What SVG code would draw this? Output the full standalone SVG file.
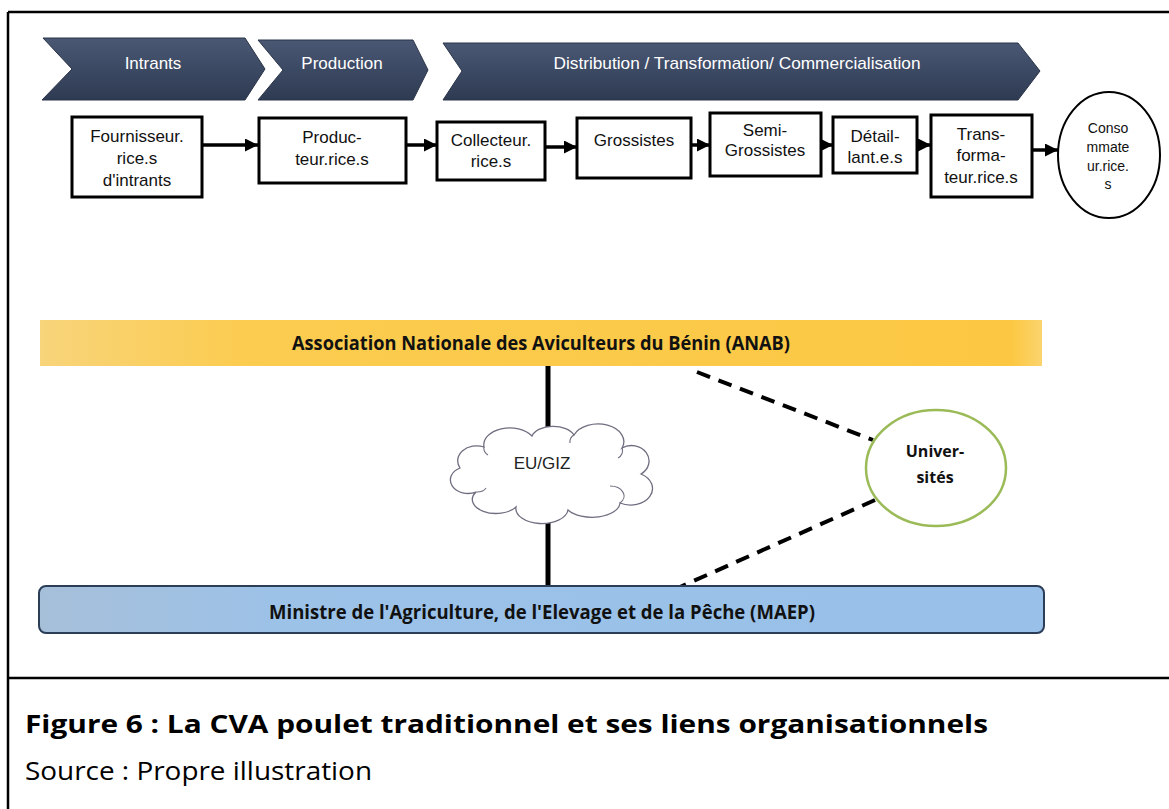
<svg xmlns="http://www.w3.org/2000/svg" width="1169" height="809" viewBox="0 0 1169 809">
<defs>
<style>
.frame{stroke:#000;stroke-width:2.5;fill:none}
.chev{fill:url(#chevGrad);stroke:#2a3448;stroke-width:1}
.chevtxt{font-family:"Liberation Sans",Arial,sans-serif;font-size:17px;fill:#fff;text-anchor:middle;dominant-baseline:central}
.box{fill:#fff;stroke:#000;stroke-width:3}
.btxt{font-family:"Liberation Sans",Arial,sans-serif;font-size:17px;fill:#111;text-anchor:middle;dominant-baseline:central}
.stxt{font-family:"Liberation Sans",Arial,sans-serif;font-size:14px;fill:#111;text-anchor:middle;dominant-baseline:central}
.flow{stroke:#000;stroke-width:3.5;fill:none;marker-end:url(#ah)}
.solid{stroke:#000;stroke-width:5;fill:none}
.dash{stroke:#000;stroke-width:4;fill:none;stroke-dasharray:14 9}
.btitle{font-family:"Open Sans","Noto Sans",sans-serif;font-weight:bold;font-size:19px;fill:#111;text-anchor:middle;dominant-baseline:central}
.utxt{font-family:"Open Sans","Noto Sans",sans-serif;font-weight:bold;font-size:16px;fill:#111;text-anchor:middle;dominant-baseline:central}
.cap{font-family:"Open Sans","Noto Sans",sans-serif;font-size:25px;fill:#000}
</style>
<linearGradient id="chevGrad" x1="0" y1="0" x2="0" y2="1">
<stop offset="0" stop-color="#4a5874"/>
<stop offset="0.5" stop-color="#3c4963"/>
<stop offset="1" stop-color="#2f3b52"/>
</linearGradient>
<linearGradient id="anabGrad" x1="0" y1="0" x2="1" y2="0">
<stop offset="0" stop-color="#f8d47a"/>
<stop offset="0.2" stop-color="#fbcc50"/>
<stop offset="0.97" stop-color="#fcc843"/>
<stop offset="1" stop-color="#fbd46e"/>
</linearGradient>
<linearGradient id="maepGrad" x1="0" y1="0" x2="1" y2="0">
<stop offset="0" stop-color="#a6bfd9"/>
<stop offset="0.25" stop-color="#9cc2e8"/>
<stop offset="1" stop-color="#98c0e8"/>
</linearGradient>
<marker id="ah" markerUnits="userSpaceOnUse" markerWidth="13" markerHeight="13" refX="13" refY="6.5" orient="auto">
<path d="M0,0 L13,6.5 L0,13 z" fill="#000"/>
</marker>
</defs>
<rect width="1169" height="809" fill="#fff"/>
<g id="frame">
<line class="frame" x1="8" y1="12" x2="1169" y2="12"/>
<line class="frame" x1="8" y1="12" x2="8" y2="809"/>
<line class="frame" x1="8" y1="678" x2="1169" y2="678"/>
</g>
<g id="stage-intrants">
<polygon class="chev" points="43,38 245,38 265,69 245,100 42,100 72,69"/>
<text class="chevtxt" x="153" y="63">Intrants</text>
</g>
<g id="stage-production">
<polygon class="chev" points="258,40 413,40 428,70 413,100 258,100 283,70"/>
<text class="chevtxt" x="342" y="63">Production</text>
</g>
<g id="stage-distribution">
<polygon class="chev" points="443,43 1018,43 1040,71 1018,100 443,100 462,71"/>
<text class="chevtxt" x="737" y="63" textLength="367" lengthAdjust="spacingAndGlyphs">Distribution / Transformation/ Commercialisation</text>
</g>
<g id="connectors">
<line class="flow" x1="202" y1="145" x2="258" y2="145"/>
<line class="flow" x1="406" y1="145" x2="437" y2="145"/>
<line class="flow" x1="545" y1="147" x2="577" y2="147"/>
<line class="flow" x1="691" y1="145" x2="710" y2="145"/>
<line class="flow" x1="821" y1="145" x2="833" y2="145"/>
<line class="flow" x1="917" y1="145" x2="931" y2="145"/>
<line class="flow" x1="1032" y1="150" x2="1058" y2="150"/>
<line class="solid" x1="548" y1="366" x2="548" y2="434"/>
<line class="solid" x1="548" y1="512" x2="548" y2="586"/>
<line class="dash" x1="697" y1="372" x2="873" y2="440"/>
<line class="dash" x1="875" y1="500" x2="680" y2="587"/>
</g>
<g id="fournisseurs">
<rect class="box" x="72" y="117" width="130" height="80"/>
<text class="btxt" x="137" y="136">Fournisseur.</text>
<text class="btxt" x="137" y="158">rice.s</text>
<text class="btxt" x="137" y="180">d'intrants</text>
</g>
<g id="producteurs">
<rect class="box" x="259" y="118" width="147" height="65"/>
<text class="btxt" x="332" y="137">Produc-</text>
<text class="btxt" x="332" y="159">teur.rice.s</text>
</g>
<g id="collecteurs">
<rect class="box" x="437" y="122" width="108" height="58"/>
<text class="btxt" x="491" y="140">Collecteur.</text>
<text class="btxt" x="491" y="161">rice.s</text>
</g>
<g id="grossistes">
<rect class="box" x="577" y="118" width="114" height="60"/>
<text class="btxt" x="634" y="140">Grossistes</text>
</g>
<g id="semi-grossistes">
<rect class="box" x="710" y="113" width="111" height="63"/>
<text class="btxt" x="765" y="130">Semi-</text>
<text class="btxt" x="765" y="150">Grossistes</text>
</g>
<g id="detaillants">
<rect class="box" x="833" y="117" width="84" height="56"/>
<text class="btxt" x="875" y="136">Détail-</text>
<text class="btxt" x="875" y="157">lant.e.s</text>
</g>
<g id="transformateurs">
<rect class="box" x="931" y="115" width="101" height="82"/>
<text class="btxt" x="981" y="134">Trans-</text>
<text class="btxt" x="981" y="155">forma-</text>
<text class="btxt" x="981" y="177">teur.rice.s</text>
</g>
<g id="consommateurs">
<ellipse cx="1109" cy="155" rx="51" ry="63" fill="#fff" stroke="#000" stroke-width="2"/>
<text class="stxt" x="1108" y="128">Conso</text>
<text class="stxt" x="1108" y="147">mmate</text>
<text class="stxt" x="1108" y="166">ur.rice.</text>
<text class="stxt" x="1108" y="184">s</text>
</g>
<g id="anab">
<rect x="40" y="320" width="1002" height="46" fill="url(#anabGrad)"/>
<text class="btitle" x="541" y="343" textLength="498" lengthAdjust="spacingAndGlyphs">Association Nationale des Aviculteurs du Bénin (ANAB)</text>
</g>
<g id="eu-giz">
<path d="M476,492 A17,13 0 0 1 460,468 A19,15 0 0 1 484,447 A26,17 0 0 1 532,436 A22,13 0 0 1 574,435 A25,17 0 0 1 622,448 A17,15 0 0 1 641,474 A20,15 0 0 1 620,503 A28,15 0 0 1 568,510 A26,15 0 0 1 516,507 A22,13 0 0 1 476,492 Z" fill="#fff" stroke="#6e6e80" stroke-width="1.3"/>
<path d="M476,492 A10,6 0 0 0 486,488 M484,447 A12,9 0 0 0 488,455 M574,435 A8,8 0 0 0 570,443 M622,448 A8,8 0 0 1 618,458 M620,503 A14,10 0 0 0 610,486" fill="none" stroke="#6e6e80" stroke-width="1.1"/>
<text x="542" y="463" font-family="'Liberation Sans',Arial,sans-serif" font-size="17" fill="#222" text-anchor="middle" dominant-baseline="central">EU/GIZ</text>
</g>
<g id="universites">
<ellipse cx="936" cy="468" rx="70" ry="58" fill="#fff" stroke="#9bbb59" stroke-width="2.5"/>
<text class="utxt" x="935" y="451">Univer-</text>
<text class="utxt" x="935" y="477">sités</text>
</g>
<g id="maep">
<rect x="39" y="586" width="1005" height="47" rx="7" ry="7" fill="url(#maepGrad)" stroke="#2c3e57" stroke-width="2"/>
<text class="btitle" x="542" y="612" textLength="546" lengthAdjust="spacingAndGlyphs">Ministre de l'Agriculture, de l'Elevage et de la Pêche (MAEP)</text>
</g>
<g id="caption">
<text class="cap" x="25" y="733" font-weight="bold" textLength="963" lengthAdjust="spacingAndGlyphs">Figure 6 : La CVA poulet traditionnel et ses liens organisationnels</text>
<text class="cap" x="25" y="780" textLength="347" lengthAdjust="spacingAndGlyphs">Source : Propre illustration</text>
</g>
</svg>
